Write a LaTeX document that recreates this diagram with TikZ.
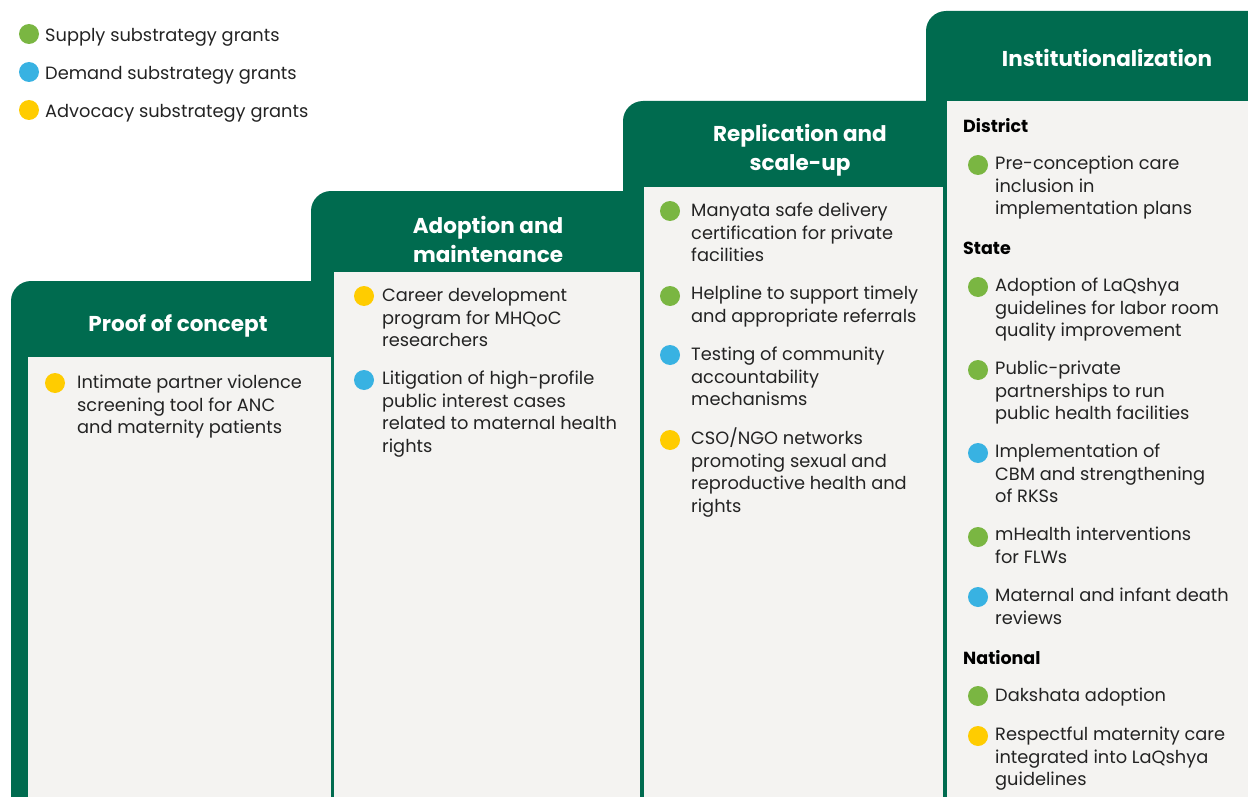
\documentclass[tikz,border=0pt]{standalone}
\usepackage{fontspec}
\setmainfont{Poppins}
\definecolor{stagegreen}{RGB}{0,107,79}
\definecolor{panelgray}{RGB}{244,243,241}
\definecolor{supplyc}{RGB}{122,182,66}
\definecolor{demandc}{RGB}{56,178,226}
\definecolor{advocacyc}{RGB}{255,204,0}
\definecolor{bodytext}{RGB}{35,35,35}
\tikzset{
  stagebox/.style={fill=stagegreen, rounded corners=20pt},
  panel/.style={fill=panelgray},
  stagetitle/.style={text=white, font=\fontsize{21.5}{29}\selectfont\bfseries, align=center, inner sep=0pt},
  itemtext/.style={text=bodytext, font=\fontsize{17.8}{22.4}\selectfont, align=left, anchor=north west, inner sep=0pt},
  levelhead/.style={text=black, font=\fontsize{17.5}{22}\selectfont\bfseries, anchor=west, inner sep=0pt},
  dot/.style={circle, minimum size=20pt, inner sep=0pt}
}
\begin{document}
\begin{tikzpicture}[x=1pt, y=-1pt]
    \useasboundingbox (0,0) rectangle (1248,797);
    % green stages, left to right
    \fill[stagebox] (11,281) rectangle (345,830);
    \fill[stagebox] (311,191) rectangle (655,830);
    \fill[stagebox] (623,101) rectangle (960,830);
    \fill[stagebox] (926,11) rectangle (1280,830);
    % panels
    \fill[panel] (28,357) rectangle (331,797);
    \fill[panel] (334,272) rectangle (640,797);
    \fill[panel] (644,187) rectangle (943,797);
    \fill[panel] (947,101) rectangle (1248,797);

    % legend
    \node[dot, fill=supplyc] (ls) at (29,34) {};
    \node[dot, fill=demandc] (ld) at (29,72) {};
    \node[dot, fill=advocacyc] (la) at (29,110) {};
    \node[itemtext, anchor=west] (lst) at (45,37) {Supply substrategy grants};
    \node[itemtext, anchor=west] (ldt) at (45,75) {Demand substrategy grants};
    \node[itemtext, anchor=west] (lat) at (45,113) {Advocacy substrategy grants};

    % titles
    \node[stagetitle] (P) at (178,326) {Proof of concept};
    \node[stagetitle] (A) at (488,239) {Adoption and\\maintenance};
    \node[stagetitle] (R) at (800,150) {Replication and\\scale-up};
    \node[stagetitle] (I) at (1107,58) {Institutionalization};

    % proof of concept
    \node[dot, fill=advocacyc] (pd1) at (55,383) {};
    \node[itemtext] (p1) at (77,373) {\strut Intimate partner violence\\screening tool for ANC\\and maternity patients};

    % adoption and maintenance
    \node[dot, fill=advocacyc] (ad1) at (364,296) {};
    \node[itemtext] (a1) at (382,286) {\strut Career development\\program for MHQoC\\researchers};
    \node[dot, fill=demandc] (ad2) at (364,380) {};
    \node[itemtext] (a2) at (382,369) {\strut Litigation of high-profile\\public interest cases\\related to maternal health\\rights};

    % replication and scale-up
    \node[dot, fill=supplyc] (rd1) at (670,211) {};
    \node[itemtext] (r1) at (691,201) {\strut Manyata safe delivery\\certification for private\\facilities};
    \node[dot, fill=supplyc] (rd2) at (670,296) {};
    \node[itemtext] (r2) at (691,284) {\strut Helpline to support timely\\and appropriate referrals};
    \node[dot, fill=demandc] (rd3) at (670,355) {};
    \node[itemtext] (r3) at (691,345) {\strut Testing of community\\accountability\\mechanisms};
    \node[dot, fill=advocacyc] (rd4) at (670,440) {};
    \node[itemtext] (r4) at (691,428) {\strut CSO/NGO networks\\promoting sexual and\\reproductive health and\\rights};

    % institutionalization
    \node[levelhead] (dist) at (963,126) {District};
    \node[dot, fill=supplyc] (id1) at (978,165) {};
    \node[itemtext] (i1) at (995,154) {\strut Pre-conception care\\inclusion in\\implementation plans};
    \node[levelhead] (state) at (963,248) {State};
    \node[dot, fill=supplyc] (id2) at (978,287) {};
    \node[itemtext] (i2) at (995,276) {\strut Adoption of LaQshya\\guidelines for labor room\\quality improvement};
    \node[dot, fill=supplyc] (id3) at (978,370) {};
    \node[itemtext] (i3) at (995,359) {\strut Public-private\\partnerships to run\\public health facilities};
    \node[dot, fill=demandc] (id4) at (978,453) {};
    \node[itemtext] (i4) at (995,442) {\strut Implementation of\\CBM and strengthening\\of RKSs};
    \node[dot, fill=supplyc] (id5) at (978,537) {};
    \node[itemtext] (i5) at (995,525) {\strut mHealth interventions\\for FLWs};
    \node[dot, fill=demandc] (id6) at (978,597) {};
    \node[itemtext] (i6) at (995,586) {\strut Maternal and infant death\\reviews};
    \node[levelhead] (nat) at (963,658) {National};
    \node[dot, fill=supplyc] (id7) at (978,696) {};
    \node[itemtext] (i7) at (995,686) {\strut Dakshata adoption};
    \node[dot, fill=advocacyc] (id8) at (978,736) {};
    \node[itemtext] (i8) at (995,725) {\strut Respectful maternity care\\integrated into LaQshya\\guidelines};
\end{tikzpicture}
\end{document}
